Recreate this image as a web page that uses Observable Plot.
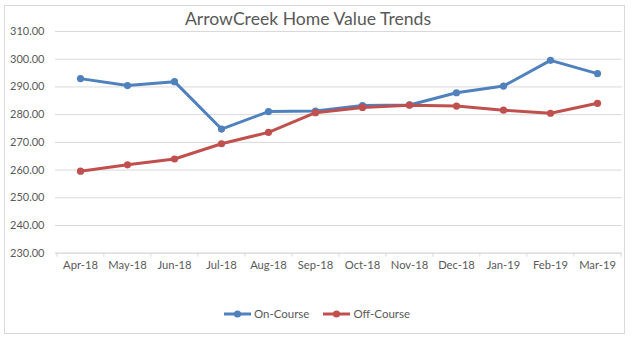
<!DOCTYPE html>
<html>
<head>
<meta charset="utf-8">
<script src="https://cdn.jsdelivr.net/npm/d3@7"></script>
<script src="https://cdn.jsdelivr.net/npm/@observablehq/plot@0.6"></script>
<style>
  html, body { margin: 0; padding: 0; background: #fff; }
  #chart { position: relative; width: 632px; height: 340px; overflow: hidden; font-family: Lato, "Open Sans", sans-serif; color: #595959; }
  #frame { position: absolute; left: 4px; top: 5px; width: 621px; height: 329px; box-sizing: border-box; border: 1px solid #d9d9d9; }
  #title { position: absolute; left: 0; width: 616px; top: 9px; text-align: center; font-size: 17.6px; line-height: 20px; color: #595959; white-space: nowrap; }
  #plot { position: absolute; left: 0; top: 0; }
  #legend { position: absolute; left: 0; width: 634px; top: 306px; text-align: center; font-size: 11.5px; line-height: 16px; white-space: nowrap; }
  .item { display: inline-flex; align-items: center; margin: 0 7px; }
  .item svg { margin-right: 3px; }
</style>
</head>
<body>
<div id="chart">
  <div id="frame"></div>
  <div id="title">ArrowCreek Home Value Trends</div>
  <div id="plot"></div>
  <div id="legend"></div>
</div>
<script>
const months = ["Apr-18", "May-18", "Jun-18", "Jul-18", "Aug-18", "Sep-18", "Oct-18", "Nov-18", "Dec-18", "Jan-19", "Feb-19", "Mar-19"];
const onCourse = [293.0, 290.5, 291.9, 274.8, 281.1, 281.3, 283.3, 283.5, 287.9, 290.3, 299.6, 294.8];
const offCourse = [259.6, 261.9, 264.0, 269.5, 273.6, 280.7, 282.6, 283.4, 283.1, 281.6, 280.5, 284.1];
const seriesNames = ["On-Course", "Off-Course"];
const seriesColors = ["#4F81BD", "#C0504D"];
const yTicks = [230, 240, 250, 260, 270, 280, 290, 300, 310];

const rows = [];
months.forEach((m, i) => {
  rows.push({month: m, value: onCourse[i], series: seriesNames[0]});
  rows.push({month: m, value: offCourse[i], series: seriesNames[1]});
});

const W = 632, H = 300, ML = 55, MR = 10.3, MT = 31, MB = 47.3;
const step = (W - ML - MR) / months.length;

const plot = Plot.plot({
  width: W,
  height: H,
  marginLeft: ML,
  marginRight: MR,
  marginTop: MT,
  marginBottom: MB,
  style: {fontFamily: "Lato, 'Open Sans', sans-serif", color: "#595959", background: "transparent", overflow: "visible"},
  x: {type: "point", domain: months, padding: 0.5},
  y: {domain: [yTicks[0], yTicks[yTicks.length - 1]]},
  color: {domain: seriesNames, range: seriesColors},
  marks: [
    Plot.gridY(yTicks, {stroke: "#d9d9d9", strokeOpacity: 1}),
    Plot.axisY(yTicks, {tickSize: 0, tickPadding: 11, tickFormat: d => d.toFixed(2), fontSize: 11, label: null, fill: "#595959"}),
    Plot.axisX({tickSize: 0, tickPadding: 8, fontSize: 11.2, label: null, fill: "#595959"}),
    Plot.axisX({tickSize: 4, dx: -step / 2, tickFormat: () => "", label: null, stroke: "#d9d9d9", strokeOpacity: 1}),
    Plot.axisX([months[months.length - 1]], {tickSize: 4, dx: step / 2, tickFormat: () => "", label: null, stroke: "#d9d9d9", strokeOpacity: 1}),
    Plot.ruleY([yTicks[0]], {stroke: "#d9d9d9"}),
    Plot.line(rows, {x: "month", y: "value", z: "series", stroke: "series", strokeWidth: 3, curve: "linear"}),
    Plot.dot(rows, {x: "month", y: "value", fill: "series", r: 3.6, stroke: "none"})
  ]
});
document.getElementById("plot").appendChild(plot);

// Legend
const legend = document.getElementById("legend");
seriesNames.forEach((name, i) => {
  const item = document.createElement("span");
  item.className = "item";
  item.innerHTML = `<svg width="27" height="10"><line x1="0" y1="5" x2="27" y2="5" stroke="${seriesColors[i]}" stroke-width="3"/><circle cx="13.5" cy="5" r="3.6" fill="${seriesColors[i]}"/></svg><span>${name}</span>`;
  legend.appendChild(item);
});
</script>
</body>
</html>
